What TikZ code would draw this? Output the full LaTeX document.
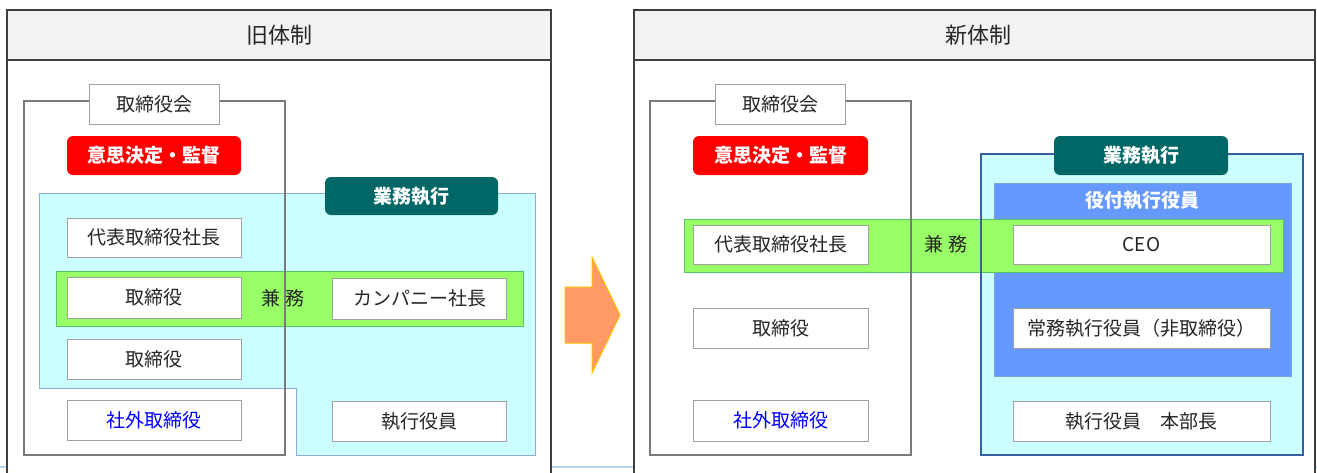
\documentclass[tikz,border=0pt]{standalone}
\usepackage{fontspec}
\setmainfont{Noto Sans CJK JP}
\definecolor{hdrgray}{HTML}{F2F2F2}
\definecolor{panelline}{HTML}{3F3F3F}
\definecolor{boardline}{HTML}{7A7A7A}
\definecolor{boxgray}{HTML}{A0A0A0}
\definecolor{txt}{HTML}{262626}
\definecolor{redfill}{HTML}{FF0000}
\definecolor{tealfill}{HTML}{006666}
\definecolor{cyanfill}{HTML}{CCFFFF}
\definecolor{cyanline}{HTML}{8EAADB}
\definecolor{darkblue}{HTML}{3A5FA0}
\definecolor{greenfill}{HTML}{99FF66}
\definecolor{greenline}{HTML}{55C46A}
\definecolor{bluefill}{HTML}{6699FF}
\definecolor{blueline}{HTML}{7F9FD8}
\definecolor{arrowfill}{HTML}{FF9966}
\definecolor{arrowline}{HTML}{FFC000}
\definecolor{bottomline}{HTML}{BDD7EE}
\definecolor{bluetext}{HTML}{0000FF}
\begin{document}
\begin{tikzpicture}[x=1pt,y=-1pt,
  membox/.style={draw=boxgray, fill=white, line width=1pt, inner sep=0pt,
    minimum width=174pt, minimum height=40pt, text=txt,
    font=\fontsize{19}{22}\selectfont},
  widebox/.style={membox, minimum width=257pt},
  tagbox/.style={rounded corners=6pt, inner sep=0pt, minimum width=174pt,
    minimum height=39pt, text=white, font=\fontsize{19}{22}\selectfont\bfseries},
  boardlabel/.style={draw=boxgray, fill=white, line width=1pt, inner sep=0pt,
    minimum width=130pt, minimum height=40pt, text=txt,
    font=\fontsize{19}{22}\selectfont},
  plain/.style={inner sep=0pt, text=txt, font=\fontsize{19}{22}\selectfont},
  titletext/.style={inner sep=0pt, text=txt, font=\fontsize{22}{26}\selectfont},
  boardframe/.style={draw=boardline, line width=2pt}
]
\clip (0,0) rectangle (1317,472);
\fill[white] (0,0) rectangle (1317,472);
\draw[bottomline, line width=1.5pt] (0,467) -- (1317,467);

% ---------- Left panel ----------
\draw[panelline, line width=1.5pt, fill=white] (7,10) rectangle (551,490);
\draw[panelline, line width=1.5pt, fill=hdrgray] (7,10) rectangle (551,60);
\node[titletext] (oldtitle) at (279,35) {旧体制};

\draw[fill=cyanfill, draw=cyanline, line width=1pt]
  (39,193) -- (535,193) -- (535,455) -- (296,455) -- (296,388) -- (39,388) -- cycle;
\draw[fill=greenfill, draw=greenline, line width=1pt] (56,271) rectangle (523,326);
\draw[boardframe] (24,101) rectangle (285,455);

\node[boardlabel] (oldboard) at (154,104) {取締役会};
\node[tagbox, fill=redfill] (olddecide) at (154,155.5) {意思決定・監督};
\node[tagbox, fill=tealfill, minimum width=173pt, minimum height=38pt] (oldexec) at (411.5,196) {業務執行};
\node[membox, minimum height=39pt] (oldpres) at (154,237.5) {代表取締役社長};
\node[membox, minimum height=41pt] (olddir1) at (154,297.5) {取締役};
\node[plain] (oldkenmu) at (283,298) {兼 務};
\node[membox, minimum height=41pt] (oldcomp) at (419.5,298.5) {カンパニー社長};
\node[membox] (olddir2) at (154,359) {取締役};
\node[membox, text=bluetext] (oldout) at (154,420) {社外取締役};
\node[membox] (oldofficer) at (419.5,421) {執行役員};

% ---------- Arrow ----------
\draw[fill=arrowfill, draw=arrowline, line width=1pt]
  (565,287) -- (592,287) -- (592,257) -- (620,315) -- (592,373) -- (592,343) -- (565,343) -- cycle;

% ---------- Right panel ----------
\draw[panelline, line width=1.5pt, fill=white] (634,10) rectangle (1315,490);
\draw[panelline, line width=1.5pt, fill=hdrgray] (634,10) rectangle (1315,60);
\node[titletext] (newtitle) at (978,35) {新体制};

\draw[fill=cyanfill, draw=darkblue, line width=2pt] (981,154) rectangle (1303,455);
\draw[fill=bluefill, draw=blueline, line width=1pt] (994,183) rectangle (1291,376);
\draw[fill=greenfill, draw=greenline, line width=1pt] (684,219) rectangle (1283,272);
\draw[darkblue, line width=2pt] (981,154) rectangle (1303,455);
\draw[boardframe] (650,101) rectangle (911,455);

\node[boardlabel] (newboard) at (780,104) {取締役会};
\node[tagbox, fill=redfill, minimum width=175pt] (newdecide) at (780.5,155.5) {意思決定・監督};
\node[tagbox, fill=tealfill] (newexec) at (1141,155.5) {業務執行};
\node[inner sep=0pt, text=white, font=\fontsize{19}{22}\selectfont\bfseries] (yakutsuki) at (1142,200) {役付執行役員};
\node[membox, minimum width=175pt, minimum height=39pt] (newpres) at (780.5,244.5) {代表取締役社長};
\node[plain] (newkenmu) at (946,244) {兼 務};
\node[widebox, minimum height=39pt] (ceo) at (1141.5,244.5) {CEO};
\node[membox, minimum width=175pt] (newdir) at (780.5,328) {取締役};
\node[widebox] (jomu) at (1141.5,328) {常務執行役員（非取締役）};
\node[membox, minimum width=175pt, minimum height=41pt, text=bluetext] (newout) at (780.5,420.5) {社外取締役};
\node[widebox] (honbu) at (1141.5,421) {執行役員　本部長};
\end{tikzpicture}
\end{document}
